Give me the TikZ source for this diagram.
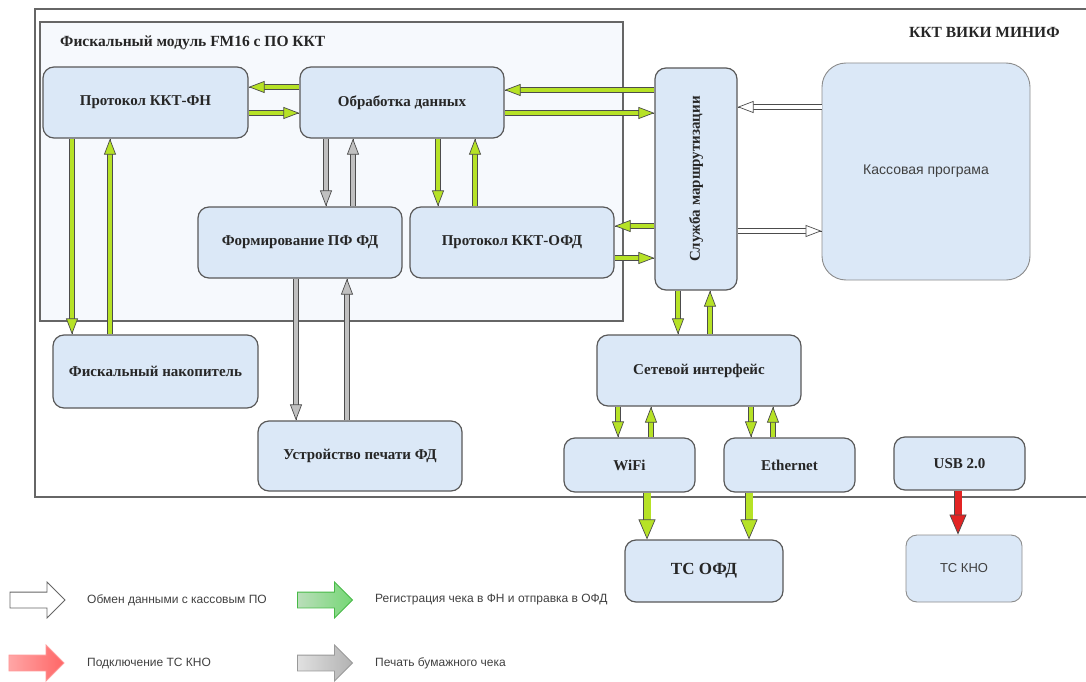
\documentclass[tikz,border=0pt]{standalone}
\usepackage{fontspec}
\setmainfont{Liberation Serif}
\newfontfamily\legendfont{Liberation Sans}
\usetikzlibrary{shapes.arrows,arrows.meta,calc,positioning}

\definecolor{boxblue}{RGB}{219,232,247}
\definecolor{innerfill}{RGB}{246,249,253}
\definecolor{arrowgreen}{RGB}{182,226,38}
\definecolor{arrowgray}{RGB}{192,192,192}
\definecolor{arrowred}{RGB}{226,36,36}

\tikzset{container/.style={draw=black!60, line width=1.3pt},
        frametitle/.style={font=\fontsize{15.5}{18}\selectfont\bfseries, text=black!85, inner sep=0pt},
        block/.style={draw=black!65, line width=1.2pt, rounded corners=11pt, fill=boxblue,
                      font=\fontsize{15}{18}\selectfont\bfseries, text=black!85, inner sep=2pt},
        softblock/.style={block, draw=black!45, line width=0.9pt, font=\legendfont\fontsize{13}{15}\selectfont, text=black!75},
        link/.style={draw=black!75, line width=0.7pt},
        flow/.style={link, postaction={draw=black!70, line width=0.7pt, double=#1, double distance=4.5pt,
                     -{Triangle[length=16pt, width=12pt, fill=#1, line width=0.7pt]}}},
        gflow/.style={flow=arrowgreen, postaction={shorten >=#1}},
        bigflow/.style={draw=black!70, line width=0.7pt, double=#1, double distance=7pt,
                     -{Triangle[length=20pt, width=17pt, fill=#1, line width=0.7pt]}},
        legarrow/.style={single arrow, minimum height=55pt, single arrow head extend=10pt,
                         text height=15pt, text depth=0pt, inner sep=0pt, line width=0.8pt},
        legtext/.style={anchor=west, font=\legendfont\fontsize{12}{14}\selectfont, text=black!75, inner sep=0pt},
        }

\begin{document}
\begin{tikzpicture}[x=1pt, y=-1pt]
    \useasboundingbox (0,0) rectangle (1086,682);

    % frames
    \node[container, fill=white, minimum width=1060pt, minimum height=488pt] (kkt) at (565,253) {};
    \node[container, fill=innerfill, minimum width=583pt, minimum height=299pt] (fm) at (331.5,171.5) {};
    \node[frametitle, anchor=west] (fmtitle) at (60,43) {Фискальный модуль FM16 с ПО ККТ};
    \node[frametitle, anchor=west] (kkttitle) at (909,32) {ККТ ВИКИ МИНИФ};

    % blocks
    \node[block, minimum width=205pt, minimum height=71pt] (proto) at (145.5,102.5) {Протокол ККТ-ФН};
    \node[block, minimum width=204pt, minimum height=71pt] (obr) at (402,102.5) {Обработка данных};
    \node[block, minimum width=204pt, minimum height=71pt] (form) at (300,242.5) {Формирование ПФ ФД};
    \node[block, minimum width=204pt, minimum height=71pt] (ofd) at (512,242.5) {Протокол ККТ-ОФД};
    \node[block, minimum width=205pt, minimum height=73pt] (fn) at (155.5,371.5) {Фискальный накопитель};
    \node[block, minimum width=204pt, minimum height=70pt] (print) at (360,456) {Устройство печати ФД};
    \node[block, minimum width=82pt, minimum height=222pt] (route) at (696,179) {\rotatebox{90}{Служба маршрутизации}};
    \node[softblock, rounded corners=24pt, minimum width=208pt, minimum height=217pt, font=\legendfont\fontsize{14}{16}\selectfont] (kassa) at (926,171.5) {Кассовая програма};
    \node[block, minimum width=204pt, minimum height=71pt] (net) at (699,370.5) {Сетевой интерфейс};
    \node[block, minimum width=131pt, minimum height=54pt] (wifi) at (629.5,465) {WiFi};
    \node[block, minimum width=131pt, minimum height=54pt] (eth) at (789.5,465) {Ethernet};
    \node[block, minimum width=131pt, minimum height=53pt] (usb) at (959.5,463.5) {USB 2.0};
    \node[block, minimum width=158pt, minimum height=62pt, font=\fontsize{17}{19}\selectfont\bfseries] (tsofd) at (704,571) {ТС ОФД};
    \node[softblock, minimum width=116pt, minimum height=67pt] (tskno) at (964,568.5) {ТС КНО};

    % data flows
    \draw[gflow=5pt] ($(obr.west)+(0,-15.5)$) -- ($(proto.east)+(0,-15.5)$);
    \draw[gflow=10pt] ($(proto.east)+(0,10.5)$) -- ($(obr.west)+(0,10.5)$);
    \draw[gflow=21pt] ($(obr.east -| route.west)+(0,-12.5)$) -- ($(obr.east)+(0,-12.5)$);
    \draw[gflow=40pt] ($(obr.east)+(0,10.5)$) -- ($(obr.east -| route.west)+(0,10.5)$);
    \draw[gflow=8pt] ($(ofd.east -| route.west)+(0,-16.5)$) -- ($(ofd.east)+(0,-16.5)$);
    \draw[gflow=3pt] ($(ofd.east)+(0,15.5)$) -- ($(ofd.east -| route.west)+(0,15.5)$);
    \draw[gflow=14pt] ($(proto.south)+(-73.5,0)$) -- ($(proto.south |- fn.north)+(-73.5,0)$);
    \draw[gflow=17pt] ($(proto.south |- fn.north)+(-35.5,0)$) -- ($(proto.south)+(-35.5,0)$);
    \draw[gflow=10pt] ($(obr.south)+(36,0)$) -- ($(obr.south |- ofd.north)+(36,0)$);
    \draw[gflow=9pt] ($(obr.south |- ofd.north)+(73,0)$) -- ($(obr.south)+(73,0)$);
    \draw[gflow=10pt] ($(route.south)+(-18,0)$) -- ($(route.south |- net.north)+(-18,0)$);
    \draw[gflow=3pt] ($(route.south |- net.north)+(14,0)$) -- ($(route.south)+(14,0)$);
    \draw[gflow=3pt] ($(wifi.north |- net.south)+(-11.5,0)$) -- ($(wifi.north)+(-11.5,0)$);
    \draw[gflow=4pt] ($(wifi.north)+(21.5,0)$) -- ($(wifi.north |- net.south)+(21.5,0)$);
    \draw[gflow=3pt] ($(eth.north |- net.south)+(-38.5,0)$) -- ($(eth.north)+(-38.5,0)$);
    \draw[gflow=4pt] ($(eth.north)+(-16.5,0)$) -- ($(eth.north |- net.south)+(-16.5,0)$);

    % printing
    \draw[flow=arrowgray, postaction={shorten >=10pt}] ($(obr.south)+(-76,0)$) -- ($(obr.south |- form.north)+(-76,0)$);
    \draw[flow=arrowgray, postaction={shorten >=9pt}] ($(obr.south |- form.north)+(-49,0)$) -- ($(obr.south)+(-49,0)$);
    \draw[flow=arrowgray, postaction={shorten >=53pt}] ($(form.south)+(-4,0)$) -- ($(form.south |- print.north)+(-4,0)$);
    \draw[flow=arrowgray, postaction={shorten >=10pt}] ($(form.south |- print.north)+(47,0)$) -- ($(form.south)+(47,0)$);

    % cash software
    \draw[flow=white, postaction={shorten >=20pt}] ($(kassa.west)+(0,-64.5)$) -- ($(kassa.west -| route.east)+(0,-64.5)$);
    \draw[flow=white, postaction={shorten >=1pt}] ($(kassa.west -| route.east)+(0,59.5)$) -- ($(kassa.west)+(0,59.5)$);

    % external links
    \draw[bigflow=arrowgreen] ($(wifi.south)+(17.5,0)$) -- ($(wifi.south |- tsofd.north)+(17.5,0)$);
    \draw[bigflow=arrowgreen] ($(eth.south)+(-40.5,0)$) -- ($(eth.south |- tsofd.north)+(-40.5,0)$);
    \draw[bigflow=arrowred] ($(usb.south)+(-1.5,0)$) -- ($(usb.south |- tskno.north)+(-1.5,0)$);

    % legend
    \node[legarrow, draw=black!60, fill=white] (legwhite) at (33.5,600) {};
    \node[legtext] (legwhitetext) at (87,600) {Обмен данными с кассовым ПО};
    \node[legarrow, draw=red!40, left color=red!35, right color=red!60] (legred) at (32.5,663) {};
    \node[legtext] (legredtext) at (87,663) {Подключение ТС КНО};
    \node[legarrow, draw=green!45!gray, left color=green!35!gray!40, right color=green!55!gray!70] (leggreen) at (321,600) {};
    \node[legtext] (leggreentext) at (375,600) {Регистрация чека в ФН и отправка в ОФД};
    \node[legarrow, draw=black!40, left color=black!12, right color=black!30] (leggray) at (321,663) {};
    \node[legtext] (leggraytext) at (375,663) {Печать бумажного чека};
\end{tikzpicture}
\end{document}
